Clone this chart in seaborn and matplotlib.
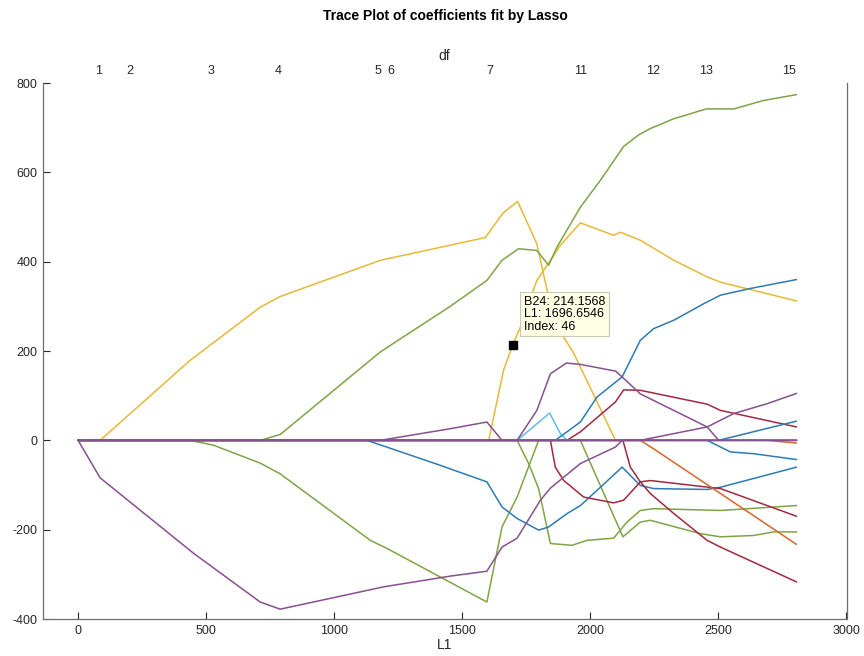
import matplotlib
matplotlib.use("Agg")
import matplotlib.pyplot as plt
import seaborn as sns
import pandas as pd

# ---- data ----
yel1_x = [0, 86, 437, 711, 789, 1180, 1453, 1590, 1659, 1716, 1791, 1831, 1896, 1935, 2098, 2805]
yel1_y = [0, 0, 179, 298, 322, 403, 437, 454, 509, 535, 440, 336, 231, 195, 0, 0]

yel2_x = [0, 1603, 1661, 1697, 1727, 1791, 1844, 1883, 1961, 2091, 2117, 2195, 2326, 2456, 2508, 2805]
yel2_y = [0, 0, 157, 214, 254, 358, 403, 437, 487, 459, 466, 448, 403, 366, 354, 312]

grn1_x = [0, 711, 789, 1180, 1453, 1596, 1655, 1720, 1791, 1837, 1870, 1961, 2039, 2130, 2189, 2234, 2326, 2453, 2560, 2677, 2805]
grn1_y = [0, 0, 13, 198, 300, 358, 403, 429, 425, 392, 433, 522, 582, 658, 684, 698, 720, 742, 742, 761, 774]

grn2_x = [0, 437, 529, 711, 789, 1141, 1206, 1427, 1596, 1655, 1714, 1798, 2805]
grn2_y = [0, 0, -11, -51, -75, -224, -242, -310, -362, -194, -127, 0, 0]

grn3_x = [0, 1714, 1759, 1798, 1844, 1928, 1987, 2091, 2143, 2195, 2247, 2508, 2805]
grn3_y = [0, 0, -52, -108, -231, -235, -224, -219, -183, -157, -153, -157, -146]

grn4_x = [0, 1961, 2127, 2195, 2234, 2430, 2508, 2638, 2716, 2805]
grn4_y = [0, 0, -216, -183, -179, -209, -216, -213, -205, -205]

blu1_x = [0, 1128, 1414, 1596, 1655, 1714, 1798, 1837, 1909, 1961, 2026, 2124, 2195, 2247, 2456, 2508, 2805]
blu1_y = [0, 0, -56, -93, -149, -175, -201, -194, -164, -146, -112, -60, -101, -108, -110, -105, -60]

lbl1_x = [0, 1714, 1841, 1883, 1909, 2805]
lbl1_y = [0, 0, 61, 15, 0, 0]

blu2_x = [0, 1863, 1961, 2026, 2124, 2195, 2247, 2326, 2443, 2508, 2625, 2805]
blu2_y = [0, 0, 41, 97, 142, 224, 250, 269, 306, 325, 340, 360]

red1_x = [0, 1909, 1961, 2098, 2130, 2195, 2456, 2508, 2805]
red1_y = [0, 0, 19, 86, 113, 112, 81, 67, 30]

pur2_x = [0, 1714, 1791, 1844, 1906, 1961, 2098, 2124, 2195, 2456, 2501, 2805]
pur2_y = [0, 0, 67, 149, 173, 170, 155, 142, 104, 30, 0, 0]

pur3_x = [0, 1180, 1453, 1596, 1655, 2195, 2456, 2560, 2690, 2805]
pur3_y = [0, 0, 26, 41, 0, 0, 30, 60, 82, 105]

red2_x = [0, 1844, 1863, 1896, 1974, 2091, 2130, 2195, 2234, 2430, 2508, 2805]
red2_y = [0, 0, -60, -90, -127, -140, -134, -93, -90, -103, -108, -170]

red3_x = [0, 2127, 2156, 2195, 2234, 2326, 2456, 2508, 2805]
red3_y = [0, 0, -60, -93, -119, -164, -224, -239, -317]

org1_x = [0, 2195, 2247, 2805]
org1_y = [0, 0, -19, -233]

blu3_x = [0, 2456, 2547, 2638, 2805]
blu3_y = [0, 0, -26, -30, -43]

blu4_x = [0, 2501, 2805]
blu4_y = [0, 0, 43]

org2_x = [0, 2690, 2805]
org2_y = [0, 0, -6]

pur1_x = [0, 86, 451, 711, 789, 1193, 1453, 1596, 1655, 1714, 1805, 1844, 1961, 2098, 2124, 2805]
pur1_y = [0, -84, -253, -362, -378, -328, -304, -293, -239, -219, -134, -107, -52, -15, 0, 0]

df_pos = [78, 203, 520, 781, 1172, 1223, 1609, 1961, 2246, 2453, 2777]
df_labels = ["1", "2", "3", "4", "5", "6", "7", "11", "12", "13", "15"]

tip_L1 = 1696.6546
tip_B = 214.1568
tip_index = 46

# ---- styling ----
BLUE = "#2b7bb4"
ORANGE = "#d2672f"
YELLOW = "#e6b936"
PURPLE = "#87508f"
GREEN = "#7da545"
LBLUE = "#62bde6"
DRED = "#a3283f"

series = [
    ("yel1", yel1_x, yel1_y, YELLOW),
    ("yel2", yel2_x, yel2_y, YELLOW),
    ("grn1", grn1_x, grn1_y, GREEN),
    ("grn2", grn2_x, grn2_y, GREEN),
    ("grn3", grn3_x, grn3_y, GREEN),
    ("grn4", grn4_x, grn4_y, GREEN),
    ("blu1", blu1_x, blu1_y, BLUE),
    ("lbl1", lbl1_x, lbl1_y, LBLUE),
    ("blu2", blu2_x, blu2_y, BLUE),
    ("red1", red1_x, red1_y, DRED),
    ("red2", red2_x, red2_y, DRED),
    ("red3", red3_x, red3_y, DRED),
    ("org1", org1_x, org1_y, ORANGE),
    ("blu3", blu3_x, blu3_y, BLUE),
    ("blu4", blu4_x, blu4_y, BLUE),
    ("org2", org2_x, org2_y, ORANGE),
    ("pur2", pur2_x, pur2_y, PURPLE),
    ("pur3", pur3_x, pur3_y, PURPLE),
    ("pur1", pur1_x, pur1_y, PURPLE),
]

rows = []
for name, xs, ys, _ in series:
    for i, (xv, yv) in enumerate(zip(xs, ys)):
        rows.append({"series": name, "L1": xv, "coef": yv, "order": i})
data = pd.DataFrame(rows)
palette = {name: c for name, _, _, c in series}
order = [name for name, _, _, _ in series]

sns.set_theme(style="white")
plt.rcParams["font.family"] = ["Liberation Sans", "DejaVu Sans"]
plt.rcParams["axes.unicode_minus"] = False

fig = plt.figure(figsize=(8.64, 6.56), dpi=100)
ax = fig.add_axes([43 / 864, 1 - 619 / 656, (846.5 - 43) / 864, (619 - 83) / 656])

sns.lineplot(data=data, x="L1", y="coef", hue="series", hue_order=order,
             palette=palette, sort=False, estimator=None, legend=False,
             linewidth=1.1, ax=ax)

ax.set_xlim(-137, 3000)
ax.set_ylim(-400, 800)
ax.set_xticks([0, 500, 1000, 1500, 2000, 2500, 3000])
ax.set_yticks([-400, -200, 0, 200, 400, 600, 800])
ax.tick_params(axis="both", direction="in", length=5, width=0.8, labelsize=9,
               colors="#262626", pad=4)
ax.tick_params(axis="x", top=False, bottom=True)
ax.tick_params(axis="y", left=True, right=False)
for s in ["left", "bottom", "right"]:
    ax.spines[s].set_color("#6e6e6e")
    ax.spines[s].set_linewidth(0.9)
ax.spines["top"].set_visible(False)
ax.set_xlabel("L1", fontsize=10, color="#262626", labelpad=1)
ax.set_ylabel("")

# top df axis
ax2 = ax.twiny()
ax2.set_xlim(ax.get_xlim())
ax2.set_xticks(df_pos)
ax2.set_xticklabels(df_labels)
ax2.tick_params(axis="x", length=0, labelsize=9, colors="#262626", pad=4)
for s in ax2.spines.values():
    s.set_visible(False)
ax2.set_xlabel("df", fontsize=10, color="#262626", labelpad=4)

# data tip
ax.plot([tip_L1], [tip_B], marker="s", color="black", markersize=6, linestyle="none", zorder=10)
ax.annotate(f"B24: {tip_B:.4f}\nL1: {tip_L1:.4f}\nIndex: {tip_index}",
            xy=(tip_L1, tip_B), xytext=(1740, 324), textcoords="data",
            ha="left", va="top", fontsize=9, linespacing=1.05, color="black",
            bbox=dict(boxstyle="square,pad=0.3", facecolor="#ffffe6",
                      edgecolor="#c8c8b4", linewidth=0.8), zorder=11)

fig.text(445 / 864, 1 - 16 / 656, "Trace Plot of coefficients fit by Lasso",
         ha="center", va="center", fontsize=10, fontweight="bold", color="black")

fig.savefig("out.png", dpi=100)
